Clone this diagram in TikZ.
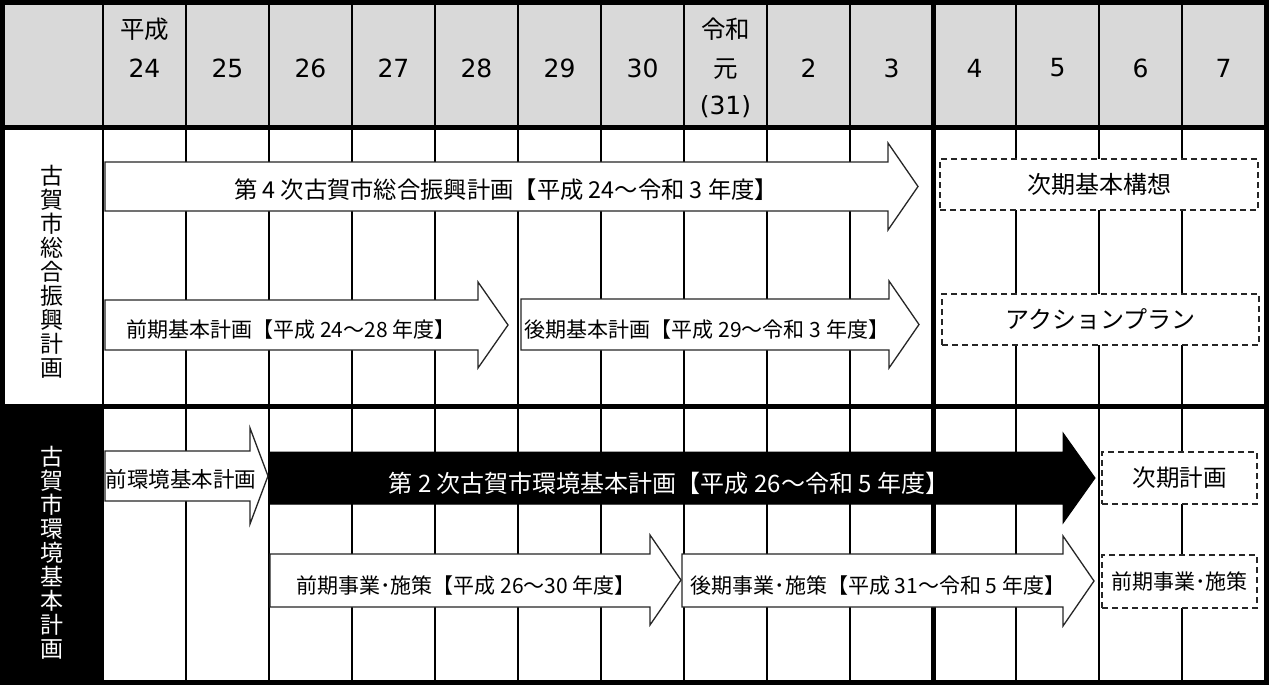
\documentclass[tikz,border=0pt]{standalone}
\usepackage{fontspec}
\newfontfamily\jp{Noto Sans CJK JP}
\newfontfamily\lat{DejaVu Sans}
\definecolor{hdrgray}{HTML}{D9D9D9}
\newcommand\arrowshape[8]{\draw[#1] (#2,#5) -- (#3,#5) -- (#3,#7) -- (#4,{(#7+#8)/2}) -- (#3,#8) -- (#3,#6) -- (#2,#6) -- cycle;}
\newcommand\fs[1]{\jp\fontsize{#1}{#1}\selectfont}
\begin{document}
\begin{tikzpicture}[x=1pt,y=-1pt,
  thingrid/.style={line width=2pt},
  thickgrid/.style={line width=5pt},
  arrowbox/.style={draw=black!85, line width=1.3pt, fill=white, line join=miter},
  darkarrow/.style={draw=black, fill=black, line width=1pt, line join=miter},
  dashbox/.style={draw=black!85, line width=1.5pt, dash pattern=on 6pt off 4pt, fill=white, inner sep=0},
  hdrjp/.style={font=\fs{24.5}, inner sep=0},
  hdrnum/.style={font=\lat\fontsize{25}{25}\selectfont, inner sep=0},
  lbl/.style={inner sep=0},
  vlbl/.style={align=center, inner sep=0, font=\jp\fontsize{23}{24}\selectfont}
]
\useasboundingbox (0,0) rectangle (1269,685);
% backgrounds
\fill[white] (0,0) rectangle (1269,685);
\fill[hdrgray] (2,2) rectangle (1267,127);
\fill[black] (2,406) rectangle (103,683);
% vertical grid
\foreach \x in {103,186,269,352,435,518,601,684,767,850,1016,1099,1182}
  \draw[thingrid] (\x,2) -- (\x,683);
\draw[thickgrid] (933,2) -- (933,683);
% header labels
\node[hdrjp] (hA) at (144.5,29) {平成};
\node[hdrnum] (h1) at (144.5,68) {24};
\node[hdrnum] (h2) at (227.5,68) {25};
\node[hdrnum] (h3) at (310.5,68) {26};
\node[hdrnum] (h4) at (393.5,68) {27};
\node[hdrnum] (h5) at (476.5,68) {28};
\node[hdrnum] (h6) at (559.5,68) {29};
\node[hdrnum] (h7) at (642.5,68) {30};
\node[hdrjp] (hB) at (725.5,29) {令和};
\node[hdrjp] (h8) at (725.5,69) {元};
\node[hdrnum] (h8b) at (725.5,107) {(31)};
\node[hdrnum] (h9) at (808.5,68) {2};
\node[hdrnum] (h10) at (891.5,68) {3};
\node[hdrnum] (h11) at (974.5,68) {4};
\node[hdrnum] (h12) at (1057.5,68) {5};
\node[hdrnum] (h13) at (1140.5,68) {6};
\node[hdrnum] (h14) at (1223.5,68) {7};
% row labels
\node[vlbl] (rowA) at (52,271.5) {古\\賀\\市\\総\\合\\振\\興\\計\\画};
\node[vlbl, text=white] (rowB) at (52,552.5) {古\\賀\\市\\環\\境\\基\\本\\計\\画};
% section 1 arrows
\arrowshape{arrowbox}{105}{888}{918}{162}{211}{143}{230}
\node[lbl, font=\fs{23.3}] (t1) at (506,190) {第 4 次古賀市総合振興計画【平成 24～令和 3 年度】};
\arrowshape{arrowbox}{105}{478}{508}{300}{350}{282}{368}
\node[lbl, font=\fs{21}] (t2) at (291,330) {前期基本計画【平成 24～28 年度】};
\arrowshape{arrowbox}{521}{889}{919}{299}{350}{281}{368}
\node[lbl, font=\fs{21}] (t3) at (707,330) {後期基本計画【平成 29～令和 3 年度】};
\node[dashbox, minimum width=318pt, minimum height=51pt, font=\fs{24}] (n1) at (1099,184.5) {次期基本構想};
\node[dashbox, minimum width=317pt, minimum height=51pt, font=\fs{24}] (n2) at (1100.5,319.5) {アクションプラン};
% section 2 arrows
\arrowshape{arrowbox}{105}{250}{268}{451}{501}{428}{524}
\node[lbl, font=\fs{21.5}] (t4) at (181,479) {前環境基本計画};
\arrowshape{darkarrow}{269}{1063}{1095}{452}{504}{433}{523}
\node[lbl, text=white, font=\fs{24}] (t5) at (669,483) {第 2 次古賀市環境基本計画【平成 26～令和 5 年度】};
\arrowshape{arrowbox}{270}{650}{681}{554}{607}{535}{625}
\node[lbl, font=\fs{21}] (t6) at (466,586) {前期事業･施策【平成 26～30 年度】};
\arrowshape{arrowbox}{682}{1063}{1094}{554}{607}{536}{626}
\node[lbl, font=\fs{21}] (t7) at (878,586) {後期事業･施策【平成 31～令和 5 年度】};
\node[dashbox, minimum width=155pt, minimum height=52pt, font=\fs{23.5}] (n3) at (1179.5,478) {次期計画};
\node[dashbox, minimum width=155pt, minimum height=53pt, font=\fs{21}] (n4) at (1179.5,581.5) {前期事業･施策};
% thick structure lines
\draw[thickgrid] (0,127.5) -- (1269,127.5);
\draw[thickgrid] (0,406.5) -- (1269,406.5);
\draw[thickgrid] (2.5,2.5) rectangle (1266.5,682.5);
\end{tikzpicture}
\end{document}
